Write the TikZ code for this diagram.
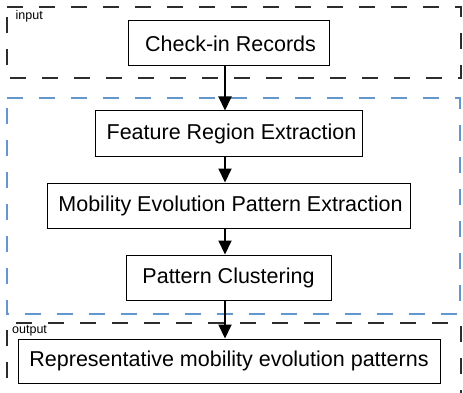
\documentclass[tikz,border=0pt]{standalone}
\usepackage{fontspec}
\setmainfont{Liberation Sans}
\usetikzlibrary{arrows.meta}
\definecolor{grpblue}{RGB}{100,150,205}
\definecolor{grpgray}{RGB}{45,45,45}
\begin{document}
\begin{tikzpicture}[x=1pt,y=-1pt,
  stagebox/.style={draw,line width=1pt,inner sep=0pt,font=\fontsize{21.5}{25}\selectfont},
  grp/.style={line width=1.2pt,dash pattern=on 16pt off 16pt},
  grplabel/.style={font=\fontsize{12.5}{14}\selectfont,anchor=north west,inner sep=0pt},
  flow/.style={-{Triangle[length=14pt,width=13pt]},line width=2pt}]
\useasboundingbox (0,0) rectangle (463,393);
\draw[grp,grpgray] (7,7) -- (461,7) -- (461,78) -- (7,78) -- cycle;
\draw[grp,grpblue] (7,98) -- (460,98) -- (460,314) -- (7,314) -- cycle;
\draw[grp,grpgray] (7,410) -- (7,323) -- (461,323) -- (461,410);
\node[grplabel] (lin) at (15.5,10.5) {input};
\node[grplabel] (lout) at (12,325) {output};
\node[stagebox,minimum width=201pt,minimum height=45pt] (a) at (228.5,43.5) {\hspace*{4pt}Check-in Records};
\node[stagebox,minimum width=267pt,minimum height=45pt] (b) at (228.5,133.5) {\hspace*{6pt}Feature Region Extraction};
\node[stagebox,minimum width=363pt,minimum height=45pt] (c) at (228.5,205.5) {\hspace*{4pt}Mobility Evolution Pattern Extraction};
\node[stagebox,minimum width=205pt,minimum height=45pt] (d) at (228.5,277.5) {Pattern Clustering};
\node[stagebox,minimum width=422pt,minimum height=44pt] (e) at (229,361) {Representative mobility evolution patterns};
\draw[flow] (a.south -| 225,0) -- (b.north -| 225,0);
\draw[flow] (b.south -| 225,0) -- (c.north -| 225,0);
\draw[flow] (c.south -| 225,0) -- (d.north -| 225,0);
\draw[flow] (d.south -| 225,0) -- (e.north -| 225,0);
\end{tikzpicture}
\end{document}
